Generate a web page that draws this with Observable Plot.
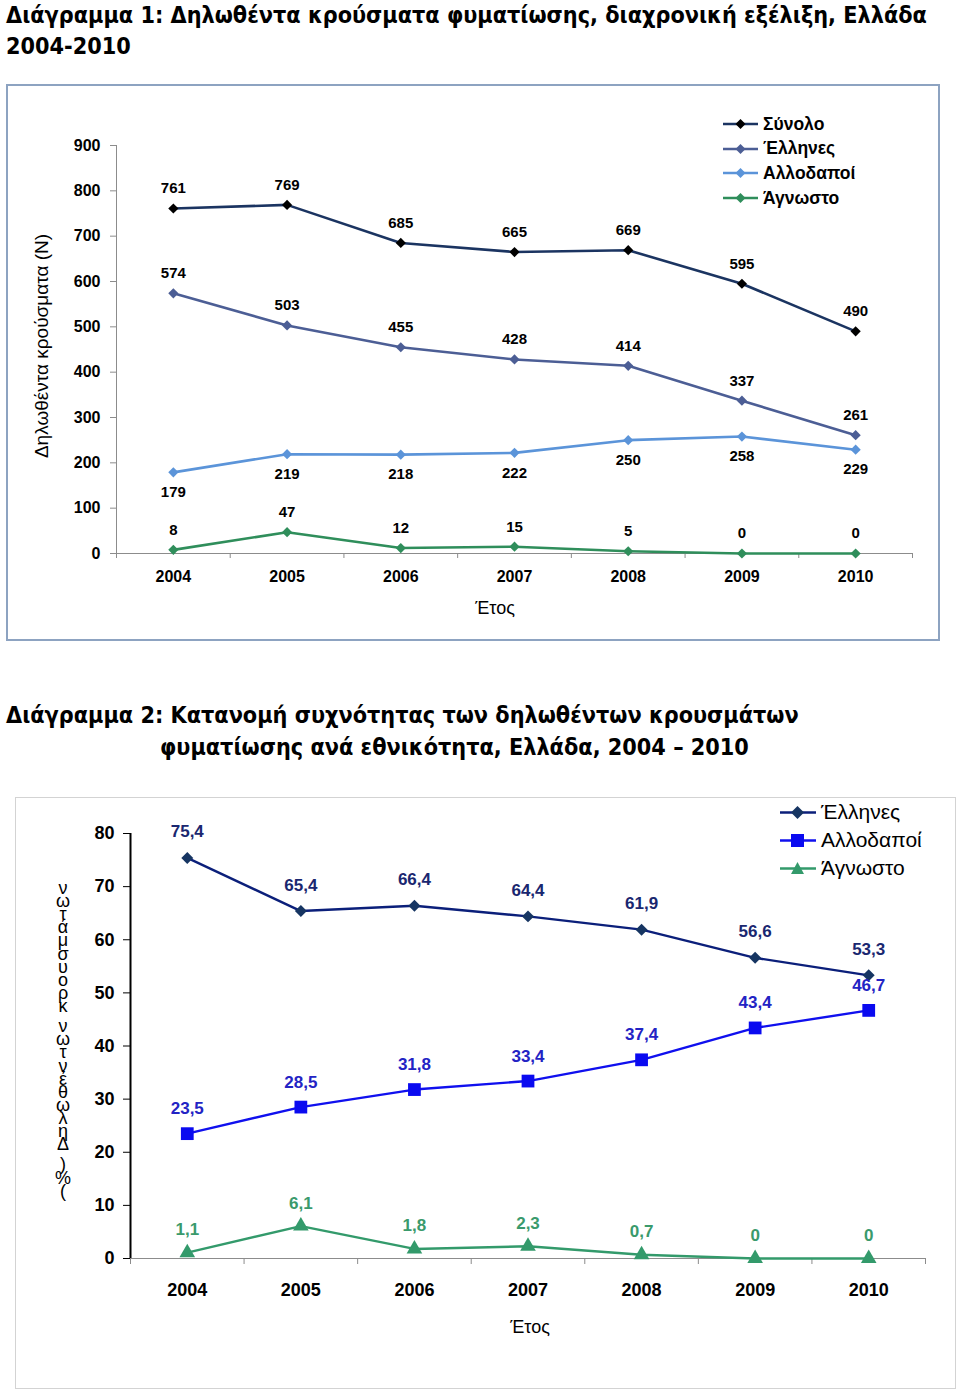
<!DOCTYPE html>
<html><head><meta charset="utf-8">
<script src="https://cdn.jsdelivr.net/npm/d3@7"></script>
<script src="https://cdn.jsdelivr.net/npm/@observablehq/plot@0.6"></script>
<style>
body{margin:0;background:#fff;}
#page{position:relative;width:960px;height:1390px;overflow:hidden;font-family:Arial,"Liberation Sans",sans-serif;color:#000;}
.title{position:absolute;font-family:"DejaVu Sans Condensed","DejaVu Sans",Verdana,sans-serif;font-weight:bold;font-size:23.2px;white-space:nowrap;line-height:31px;}
.box{position:absolute;box-sizing:border-box;}
.abs{position:absolute;white-space:nowrap;}
#page svg text{font-weight:bold;}
.leg{position:absolute;display:flex;align-items:center;white-space:nowrap;}
.leg svg{display:block;margin-right:5px;}
#stack{position:absolute;font-family:Arial,"Liberation Sans",sans-serif;font-size:18px;line-height:22px;
  writing-mode:vertical-lr;text-orientation:upright;unicode-bidi:bidi-override;direction:rtl;letter-spacing:-6.9px;word-spacing:-6px;white-space:nowrap;}
#stack .nm{unicode-bidi:bidi-override;direction:ltr;}
</style></head><body><div id="page"></div>
<script>
// ---------- data ----------
const years = [2004, 2005, 2006, 2007, 2008, 2009, 2010];
// Chart 1: declared cases (N)
const c1Series = ["Σύνολο", "Έλληνες", "Αλλοδαποί", "Άγνωστο"];
const c1Total   = [761, 769, 685, 665, 669, 595, 490];
const c1Greek   = [574, 503, 455, 428, 414, 337, 261];
const c1Foreign = [179, 219, 218, 222, 250, 258, 229];
const c1Unknown = [8, 47, 12, 15, 5, 0, 0];
const c1Ticks   = [0, 100, 200, 300, 400, 500, 600, 700, 800, 900];
// Chart 2: percentage by nationality
const c2Series  = ["Έλληνες", "Αλλοδαποί", "Άγνωστο"];
const c2Greek   = [75.4, 65.4, 66.4, 64.4, 61.9, 56.6, 53.3];
const c2Foreign = [23.5, 28.5, 31.8, 33.4, 37.4, 43.4, 46.7];
const c2Unknown = [1.1, 6.1, 1.8, 2.3, 0.7, 0, 0];
const c2Ticks   = [0, 10, 20, 30, 40, 50, 60, 70, 80];

const title1 = ["Διάγραμμα 1: Δηλωθέντα κρούσματα φυματίωσης, διαχρονική εξέλιξη, Ελλάδα", "2004-2010"];
const title2 = ["Διάγραμμα 2: Κατανομή συχνότητας των δηλωθέντων κρουσμάτων", "φυματίωσης ανά εθνικότητα, Ελλάδα, 2004 – 2010"];
const yLabel1 = "Δηλωθέντα κρούσματα (N)";
const yLabel2 = "(%) Δηλωθέντων κρουσμάτων";
const xLabel = "Έτος";

// ---------- helpers ----------
const page = document.getElementById("page");
function el(tag, cls, css, text) {
  const e = document.createElement(tag);
  if (cls) e.className = cls;
  if (css) Object.assign(e.style, css);
  if (text != null) e.textContent = text;
  page.appendChild(e);
  return e;
}
const rows = (arr, series) => years.map((year, i) => ({year, value: arr[i], series}));
const boundaries = d3.range(2003.5, 2011, 1);
const comma = v => String(v).replace(".", ",");

// ---------- titles ----------
el("div", "title", {left: "6px", top: "-1px"}, title1[0]);
el("div", "title", {left: "6px", top: "30px"}, title1[1]);
el("div", "title", {left: "6px", top: "699px"}, title2[0]);
el("div", "title", {left: "160px", top: "731px"}, title2[1]);

// ---------- chart 1 ----------
el("div", "box", {left: "6px", top: "84px", width: "934px", height: "557px", border: "2px solid #8da3c1"});
const s1 = [
  {name: c1Series[0], data: rows(c1Total, c1Series[0]), line: "#1b3461", mark: "#000000", dy: -20},
  {name: c1Series[1], data: rows(c1Greek, c1Series[1]), line: "#4c5e95", mark: "#4c5e95", dy: -20},
  {name: c1Series[2], data: rows(c1Foreign, c1Series[2]), line: "#5b94d9", mark: "#5b94d9", dy: 20},
  {name: c1Series[3], data: rows(c1Unknown, c1Series[3]), line: "#2f8e5b", mark: "#2f8e5b", dy: -20}
];
const p1 = Plot.plot({
  width: 933, height: 556,
  marginLeft: 110, marginRight: 27, marginTop: 61, marginBottom: 87,
  x: {domain: [2003.5, 2010.5]},
  y: {domain: [0, 900]},
  style: {fontFamily: "'Liberation Sans Narrow', Arial, sans-serif", background: "transparent", overflow: "visible", color: "#000"},
  marks: [
    Plot.axisY({ticks: c1Ticks, tickSize: 6, tickPadding: 10, fontSize: 16, fontWeight: "bold", label: null, stroke: "#8c8c8c", fill: "#000"}),
    Plot.axisX({ticks: boundaries, tickSize: 5, tickFormat: () => "", label: null, stroke: "#8c8c8c"}),
    Plot.axisX({ticks: years, tickSize: 0, tickPadding: 17, tickFormat: d => String(d), fontSize: 16, fontWeight: "bold", label: null, fill: "#000"}),
    Plot.ruleX([2003.5], {stroke: "#8c8c8c"}),
    Plot.ruleY([0], {stroke: "#8c8c8c"}),
    ...s1.map(s => Plot.line(s.data, {x: "year", y: "value", stroke: s.line, strokeWidth: 2.6})),
    ...s1.map(s => Plot.dot(s.data, {x: "year", y: "value", symbol: "diamond2", r: 4.6, fill: s.mark, stroke: "none"})),
    ...s1.map(s => Plot.text(s.data, {x: "year", y: "value", text: d => String(d.value), dy: s.dy, fontSize: 15, fontWeight: "bold", fill: "#000"}))
  ]
});
Object.assign(p1.style, {position: "absolute", left: "6px", top: "84px"});
page.appendChild(p1);

el("div", "abs", {left: "42px", top: "346px", transform: "translate(-50%,-50%) rotate(-90deg)", fontSize: "19px"}, yLabel1);
el("div", "abs", {left: "495px", top: "608px", transform: "translate(-50%,-50%)", fontSize: "18px"}, xLabel);

// legend 1
s1.forEach((s, i) => {
  const d = el("div", "leg", {left: "723px", top: (124 + i * 24.7 - 10) + "px", height: "20px", fontSize: "17.5px", fontWeight: "bold"});
  d.innerHTML = `<svg width="35" height="12"><line x1="0" y1="6" x2="35" y2="6" stroke="${s.line}" stroke-width="2.6"/><path d="M17.5 1 L22.5 6 L17.5 11 L12.5 6Z" fill="${s.mark}"/></svg>`;
  const t = document.createElement("span"); t.textContent = s.name; d.appendChild(t);
});

// ---------- chart 2 ----------
el("div", "box", {left: "15px", top: "797px", width: "941px", height: "592px", border: "1.5px solid #d3d3d3"});
const s2 = [
  {name: c2Series[0], data: rows(c2Greek, c2Series[0]), line: "#0b1f7a", mark: "#163562", sym: "diamond2", r: 5.4, label: "#1a2770", dy: -26},
  {name: c2Series[1], data: rows(c2Foreign, c2Series[1]), line: "#1010ee", mark: "#0a0af0", sym: "square", r: 7.2, label: "#2323c4", dy: -25},
  {name: c2Series[2], data: rows(c2Unknown, c2Series[2]), line: "#339a6b", mark: "#339a6b", sym: "triangle", r: 5.8, label: "#3a9a6c", dy: -23}
];
const p2 = Plot.plot({
  width: 940, height: 591,
  marginLeft: 115, marginRight: 30, marginTop: 36, marginBottom: 130,
  x: {domain: [2003.5, 2010.5]},
  y: {domain: [0, 80]},
  style: {fontFamily: "Arial, 'Liberation Sans', sans-serif", background: "transparent", overflow: "visible", color: "#000"},
  marks: [
    Plot.axisY({ticks: c2Ticks, tickSize: 7, tickPadding: 9, fontSize: 18, fontWeight: "bold", label: null, stroke: "#000", fill: "#000"}),
    Plot.axisX({ticks: boundaries, tickSize: 6, tickFormat: () => "", label: null, stroke: "#8c8c8c"}),
    Plot.axisX({ticks: years, tickSize: 0, tickPadding: 25, tickFormat: d => String(d), fontSize: 18, fontWeight: "bold", label: null, fill: "#000", fontFamily: "'Liberation Sans Narrow', Arial, sans-serif"}),
    Plot.ruleY([0], {stroke: "#8c8c8c"}),
    Plot.ruleX([2003.5], {stroke: "#000", strokeWidth: 2}),
    ...s2.map(s => Plot.line(s.data, {x: "year", y: "value", stroke: s.line, strokeWidth: 2.4})),
    ...s2.map(s => Plot.dot(s.data, {x: "year", y: "value", symbol: s.sym, r: s.r, fill: s.mark, stroke: "none"})),
    ...s2.map(s => Plot.text(s.data, {x: "year", y: "value", text: d => comma(d.value), dy: s.dy, fontSize: 17, fontWeight: "bold", fill: s.label}))
  ]
});
Object.assign(p2.style, {position: "absolute", left: "15px", top: "797px"});
page.appendChild(p2);

el("div", "abs", {left: "530px", top: "1327px", transform: "translate(-50%,-50%)", fontSize: "18px"}, xLabel);

// stacked y label (one text, characters stacked from bottom to top; parentheses kept unmirrored)
const stack = el("div", null, {}, null);
stack.id = "stack";
for (const ch of yLabel2) {
  if (ch === "(" || ch === ")") {
    const sp = document.createElement("span");
    sp.className = "nm";
    sp.textContent = ch;
    stack.appendChild(sp);
  } else {
    stack.appendChild(document.createTextNode(ch));
  }
}
Object.assign(stack.style, {left: "52px", bottom: (1390 - 1194) + "px"});

// legend 2
const sym2 = [
  c => `<path d="M17.5 0 L24 6.5 L17.5 13 L11 6.5Z" fill="${c}"/>`,
  c => `<rect x="11" y="0" width="13" height="13" fill="${c}"/>`,
  c => `<path d="M17.5 0 L24 12 L11 12Z" fill="${c}"/>`
];
s2.forEach((s, i) => {
  const d = el("div", "leg", {left: "780px", top: (812 + i * 28 - 12) + "px", height: "24px", fontSize: "21px"});
  d.innerHTML = `<svg width="36" height="13"><line x1="0" y1="6.5" x2="36" y2="6.5" stroke="${s.line}" stroke-width="2.4"/>${sym2[i](s.mark)}</svg>`;
  const t = document.createElement("span"); t.textContent = s.name; d.appendChild(t);
});
</script>
</body></html>
